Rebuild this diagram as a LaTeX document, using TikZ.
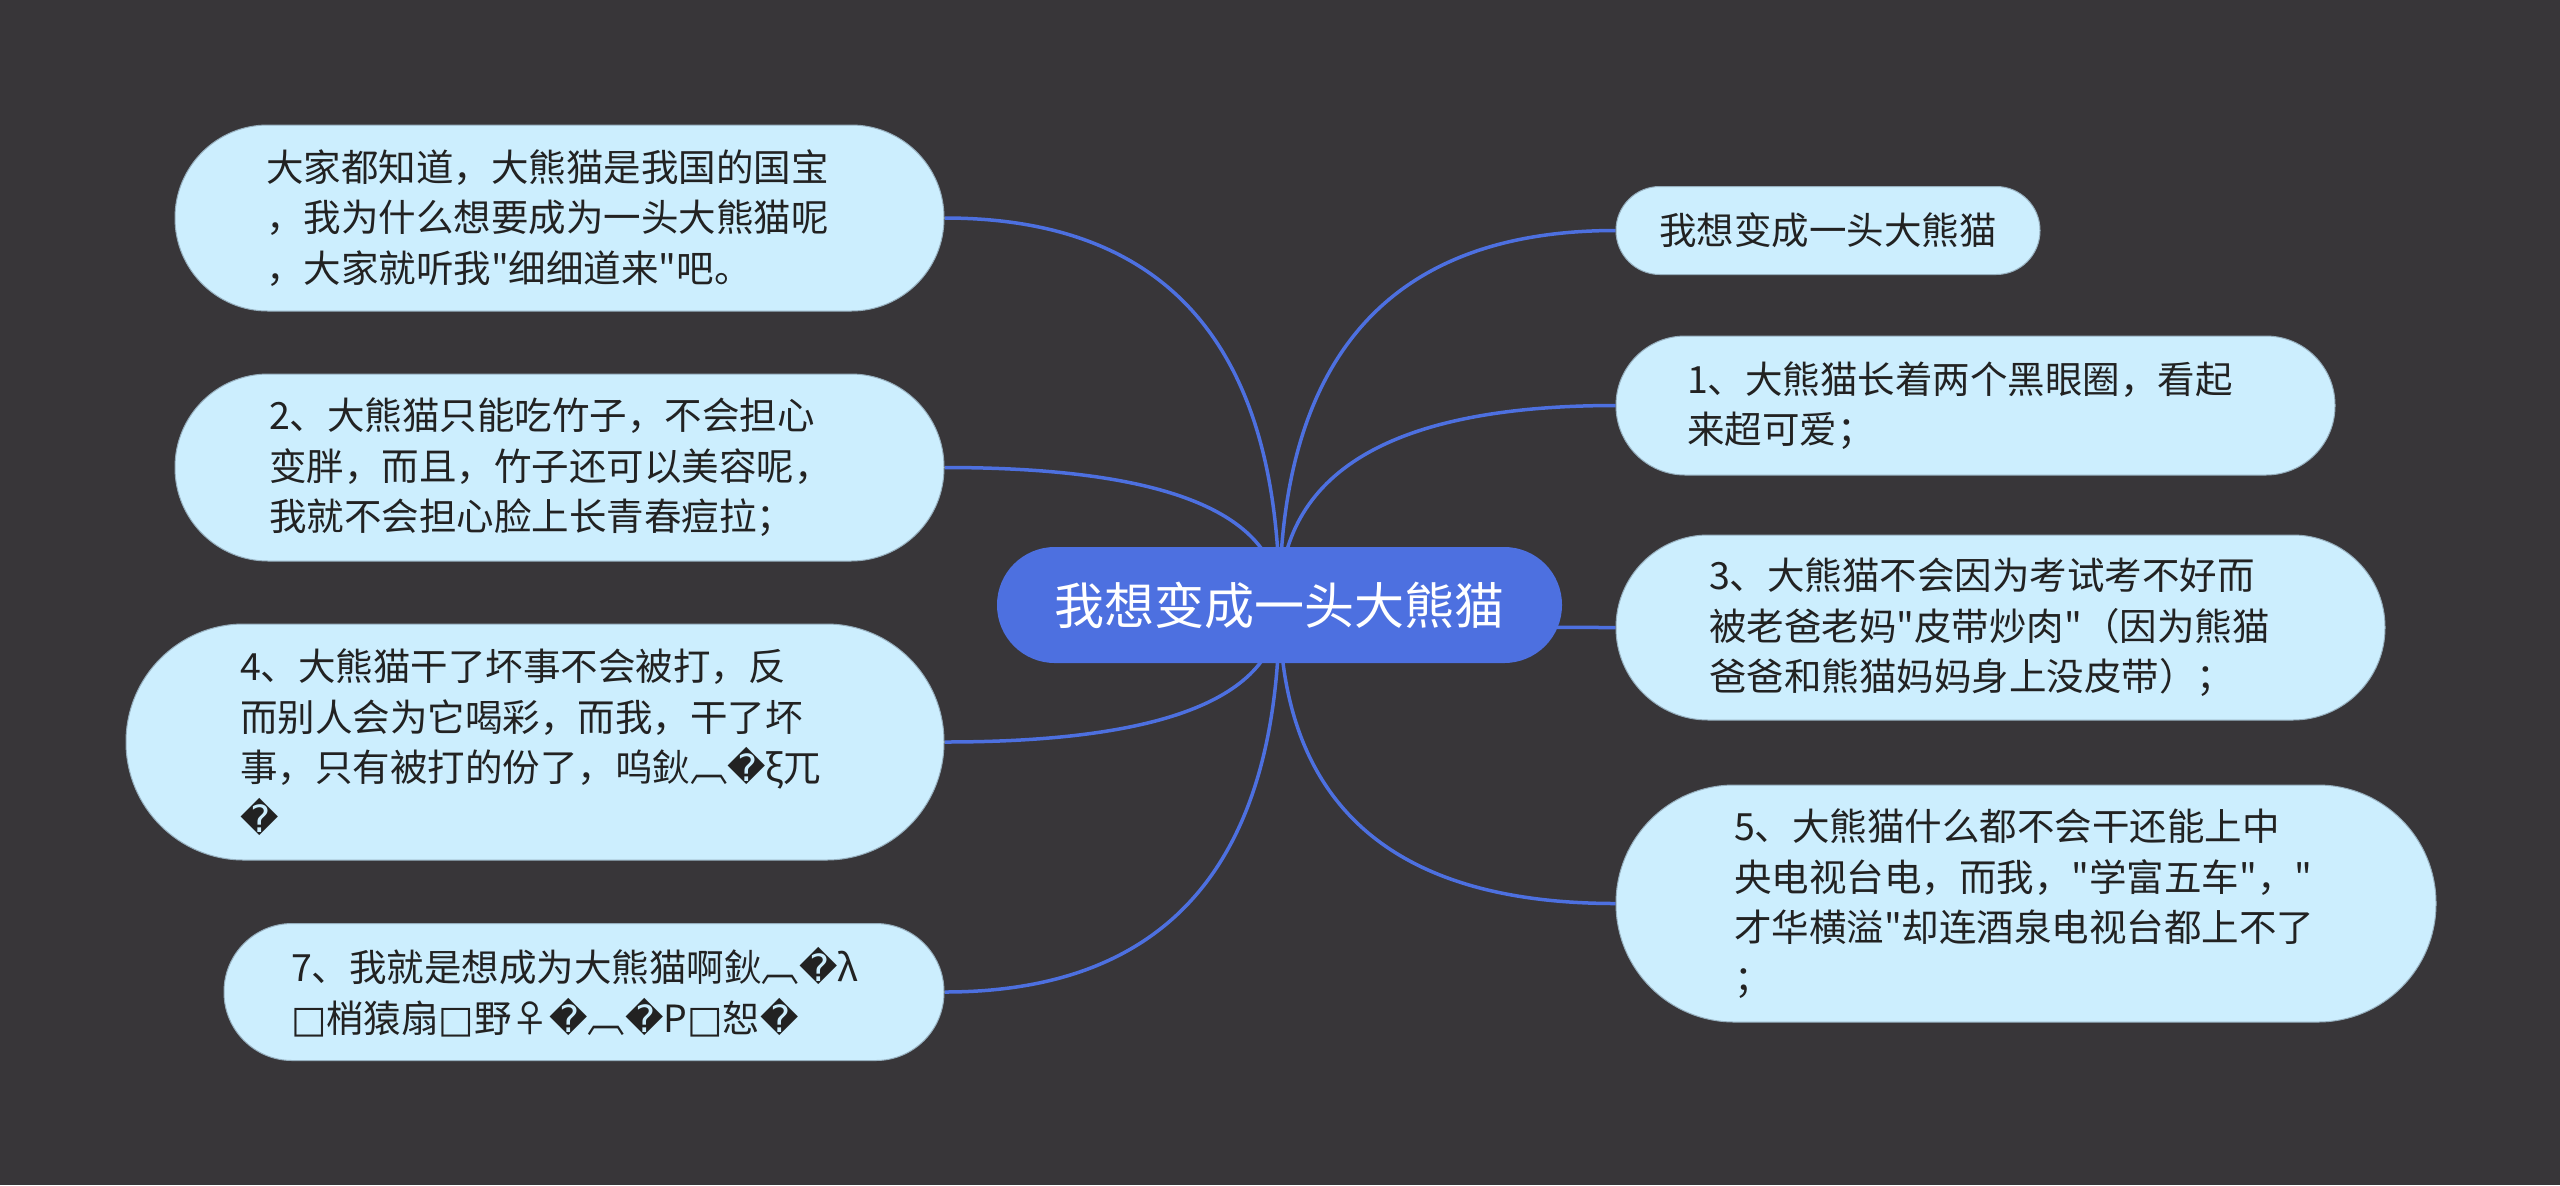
\documentclass[tikz,border=0pt]{standalone}
\usepackage{fontspec}
\newfontfamily\cjk{Noto Sans CJK SC}
\newfontfamily\dvu{DejaVu Sans}
\usetikzlibrary{calc,backgrounds}
\definecolor{bgc}{RGB}{56,54,57}
\definecolor{mainblue}{RGB}{77,112,224}
\definecolor{leaffill}{RGB}{204,238,254}
\definecolor{leafline}{RGB}{150,175,190}
\definecolor{leaftext}{RGB}{34,34,34}
\newcommand\mmlink[2]{%
  \coordinate (q#1) at (root.center |- #1.#2);
  \draw[link] (root.center) .. controls ($(root.center)!0.6667!(q#1)$) and ($(#1.#2)!0.6667!(q#1)$) .. (#1.#2);}
\begin{document}
\begin{tikzpicture}[x=0.5pt,y=-0.5pt,
  leaf/.style={rectangle, fill=leaffill, draw=leafline, line width=0.5pt, inner sep=0pt,
    text=leaftext, align=left, font=\cjk\fontsize{18.75pt}{25.25pt}\selectfont},
  rootbox/.style={rectangle, fill=mainblue, inner sep=0pt, text=white,
    font=\cjk\fontsize{25pt}{30pt}\selectfont, minimum width=282.5pt, minimum height=58pt,
    rounded corners=28.9pt},
  link/.style={draw=mainblue, line width=1.75pt}]

\node[rootbox] (root) at (1279.5,605) {我想变成一头大熊猫};

\node[leaf, minimum width=384.5pt, minimum height=93pt, rounded corners=46.4pt, text width=293.5pt]
  (L1) at (559.5,218) {大家都知道，大熊猫是我国的国宝\\，我为什么想要成为一头大熊猫呢\\，大家就听我"细细道来"吧。};
\node[leaf, minimum width=384.5pt, minimum height=93.5pt, rounded corners=46.6pt, text width=290.5pt]
  (L2) at (559.5,467.5) {2、大熊猫只能吃竹子，不会担心\\变胖，而且，竹子还可以美容呢，\\我就不会担心脸上长青春痘拉；};
\node[leaf, minimum width=409pt, minimum height=118pt, rounded corners=58.9pt, text width=295pt]
  (L3) at (535,742) {4、大熊猫干了坏事不会被打，反\\而别人会为它喝彩，而我，干了坏\\事，只有被打的份了，呜鈥︹{\dvu �}ξ兀\\{\dvu �}};
\node[leaf, minimum width=360pt, minimum height=68.5pt, rounded corners=34.1pt, text width=293pt]
  (L4) at (584,992) {7、我就是想成为大熊猫啊鈥︹{\dvu �}λ\\{\dvu □}梢猿扇{\dvu □}野♀{\dvu �}︹{\dvu �}P{\dvu □}恕{\dvu �}};

\node[leaf, minimum width=212pt, minimum height=44pt, rounded corners=21.9pt, align=center]
  (R0) at (1828,230.5) {我想变成一头大熊猫};
\node[leaf, minimum width=359.5pt, minimum height=69.5pt, rounded corners=34.6pt, text width=288.5pt]
  (R1) at (1975.5,405.5) {1、大熊猫长着两个黑眼圈，看起\\来超可爱；};
\node[leaf, minimum width=384.5pt, minimum height=92.5pt, rounded corners=46.1pt, text width=291.5pt]
  (R2) at (2000.5,627.5) {3、大熊猫不会因为考试考不好而\\被老爸老妈"皮带炒肉"（因为熊猫\\爸爸和熊猫妈妈身上没皮带）；};
\node[leaf, minimum width=410pt, minimum height=118.5pt, rounded corners=59.1pt, text width=292pt]
  (R3) at (2026,903.5) {5、大熊猫什么都不会干还能上中\\央电视台电，而我，"学富五车"，"\\才华横溢"却连酒泉电视台都上不了\\；};

\begin{scope}[on background layer]
  \fill[bgc] (0,0) rectangle (2560,1185);
  \mmlink{L1}{east}
  \mmlink{L2}{east}
  \mmlink{L3}{east}
  \mmlink{L4}{east}
  \mmlink{R0}{west}
  \mmlink{R1}{west}
  \mmlink{R2}{west}
  \mmlink{R3}{west}
\end{scope}
\end{tikzpicture}
\end{document}
